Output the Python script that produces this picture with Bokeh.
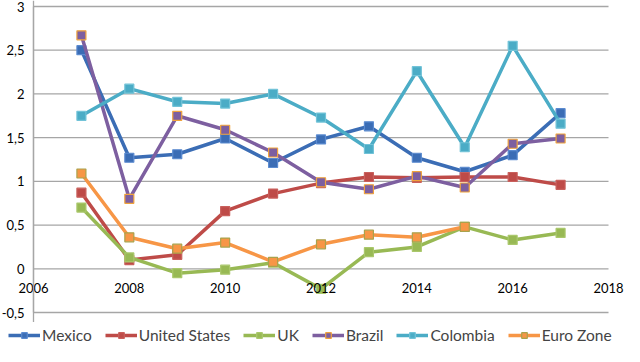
from bokeh.plotting import figure
from bokeh.layouts import column
from bokeh.models import Range1d, FixedTicker, CustomJSTickFormatter, Legend, LegendItem, ColumnDataSource
from bokeh.embed import file_html
from bokeh.resources import INLINE

years = [2007, 2008, 2009, 2010, 2011, 2012, 2013, 2014, 2015, 2016, 2017]
mexico = [2.50, 1.27, 1.31, 1.49, 1.21, 1.48, 1.63, 1.27, 1.11, 1.30, 1.78]
united_states = [0.87, 0.10, 0.16, 0.66, 0.86, 0.98, 1.05, 1.04, 1.05, 1.05, 0.96]
uk = [0.70, 0.13, -0.05, -0.01, 0.07, -0.23, 0.19, 0.25, 0.48, 0.33, 0.41]
brazil = [2.67, 0.80, 1.75, 1.59, 1.33, 0.99, 0.91, 1.06, 0.93, 1.43, 1.49]
colombia = [1.75, 2.06, 1.91, 1.89, 2.00, 1.73, 1.37, 2.26, 1.39, 2.55, 1.66]
euro_years = [2007, 2008, 2009, 2010, 2011, 2012, 2013, 2014, 2015]
euro_zone = [1.09, 0.36, 0.23, 0.30, 0.08, 0.28, 0.39, 0.36, 0.48]

x_ticks = [2006, 2008, 2010, 2012, 2014, 2016, 2018]
y_ticks = [-0.5, 0, 0.5, 1, 1.5, 2, 2.5, 3]

series = [
    ("Mexico", years, mexico, "#3b6db5", "#3b6db5", "#5b8bd0"),
    ("United States", years, united_states, "#be4b48", "#be4b48", "#c9605c"),
    ("UK", years, uk, "#98b954", "#98b954", "#aac86c"),
    ("Brazil", years, brazil, "#7d5fa0", "#7d5fa0", "#f0a33c"),
    ("Colombia", years, colombia, "#4bacc6", "#4bacc6", "#72c3d8"),
    ("Euro Zone", euro_years, euro_zone, "#f79646", "#f79646", "#a9a24c"),
]

W = 624
H_MAIN = 322
H_LEG = 24
# pixel geometry of the plotting area inside the frame
X0_PX, X1_PX = 33, 608
Y_TOP_PX, Y_BOT_PX = 6, 312
x_lo, x_hi = x_ticks[0], x_ticks[-1]
y_lo, y_hi = y_ticks[0], y_ticks[-1]
xs_scale = (X1_PX - X0_PX) / (x_hi - x_lo)
ys_scale = (Y_BOT_PX - Y_TOP_PX) / (y_hi - y_lo)

p = figure(width=W, height=H_MAIN, output_backend="svg", toolbar_location=None,
           x_range=Range1d(x_lo - X0_PX / xs_scale, x_hi + (W - X1_PX) / xs_scale),
           y_range=Range1d(y_lo - (H_MAIN - Y_BOT_PX) / ys_scale, y_hi + Y_TOP_PX / ys_scale),
           min_border_left=0, min_border_right=0, min_border_top=0, min_border_bottom=0)
p.outline_line_color = None
p.background_fill_color = "white"
p.border_fill_color = "white"
p.xgrid.visible = False
p.ygrid.visible = False

# horizontal gridlines spanning only the data extent
grid_src = ColumnDataSource(dict(x0=[x_lo] * len(y_ticks), x1=[x_hi] * len(y_ticks),
                                 y=y_ticks))
p.segment(x0="x0", y0="y", x1="x1", y1="y", source=grid_src,
          line_color="#a6a6a6", line_width=1.3)
# vertical axis line at the first year
vax_src = ColumnDataSource(dict(x0=[x_lo], y0=[y_lo], x1=[x_lo], y1=[y_hi]))
p.segment(x0="x0", y0="y0", x1="x1", y1="y1", source=vax_src,
          line_color="#a6a6a6", line_width=1.3)

yax = p.yaxis[0]
yax.ticker = FixedTicker(ticks=y_ticks)
yax.fixed_location = x_lo
yax.formatter = CustomJSTickFormatter(code="return tick.toString().replace('.', ',');")
yax.axis_line_color = "#a6a6a6"
yax.axis_line_width = 1.3
yax.major_tick_line_color = None
yax.minor_tick_line_color = None
yax.major_label_standoff = 3
yax.major_label_text_font = "Lato"
yax.major_label_text_font_size = "13px"
yax.major_label_text_color = "#000000"

xax = p.xaxis[0]
xax.ticker = FixedTicker(ticks=x_ticks)
xax.fixed_location = 0
xax.axis_line_color = None
xax.major_tick_line_color = None
xax.minor_tick_line_color = None
xax.major_label_standoff = 8
xax.major_label_text_font = "Lato"
xax.major_label_text_font_size = "13px"
xax.major_label_text_color = "#000000"

for name, xs, ys, lc, fc, ec in series:
    src = ColumnDataSource(dict(x=xs, y=ys))
    p.line("x", "y", source=src, line_color=lc, line_width=3.5)
    p.scatter("x", "y", source=src, marker="square", size=9,
              fill_color=fc, line_color=ec, line_width=1.2)

# legend strip below the chart
lg = figure(width=W, height=H_LEG, output_backend="svg", toolbar_location=None,
            x_range=Range1d(0, 1), y_range=Range1d(0, 1),
            min_border_left=0, min_border_right=0, min_border_top=0, min_border_bottom=0)
lg.outline_line_color = None
lg.xaxis.visible = False
lg.yaxis.visible = False
lg.xgrid.visible = False
lg.ygrid.visible = False
items = []
for name, xs, ys, lc, fc, ec in series:
    src = ColumnDataSource(dict(x=xs, y=ys))
    r1 = lg.line("x", "y", source=src, line_color=lc, line_width=3.5)
    r2 = lg.scatter("x", "y", source=src, marker="square", size=9,
                    fill_color=fc, line_color=ec, line_width=1.2)
    items.append(LegendItem(label=name, renderers=[r1, r2]))

legend = Legend(items=items, orientation="horizontal", location=(8, 2),
                label_text_font="Lato", label_text_font_size="15.5px",
                glyph_width=32, glyph_height=14, spacing=13, label_standoff=2,
                padding=0, margin=0, border_line_color=None, background_fill_alpha=0)
lg.add_layout(legend, "center")

layout = column(p, lg, spacing=0)
open("out.html", "w").write(file_html(layout, INLINE))
